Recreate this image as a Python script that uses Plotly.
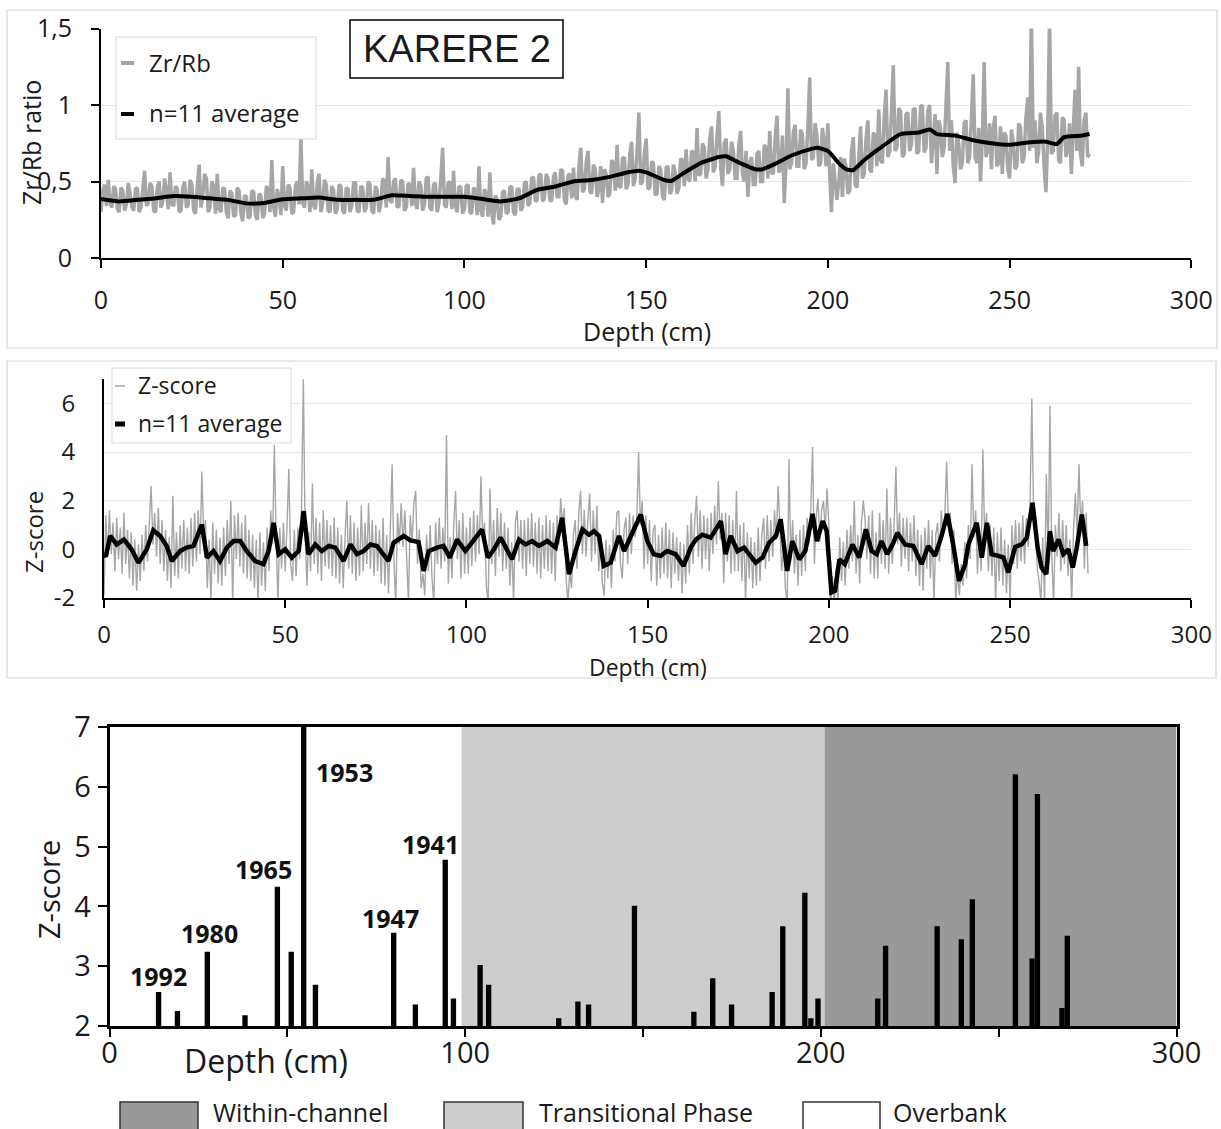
import plotly.graph_objects as go

# ---------------- data ----------------
# Zr/Rb ratio, 0.5 cm steps (0-272 cm)
zr_rb = [
    0.30, 0.44, 0.48, 0.34, 0.51, 0.36, 0.33, 0.47, 0.45, 0.32, 0.30, 0.46, 0.44, 0.31, 0.35, 0.49, 0.42, 0.33, 0.31, 0.45,
    0.46, 0.30, 0.33, 0.48, 0.57, 0.34, 0.36, 0.49, 0.47, 0.31, 0.30, 0.46, 0.50, 0.33, 0.37, 0.52, 0.44, 0.32, 0.56, 0.35,
    0.34, 0.47, 0.45, 0.30, 0.31, 0.46, 0.50, 0.33, 0.35, 0.51, 0.48, 0.31, 0.29, 0.47, 0.61, 0.33, 0.40, 0.55, 0.52, 0.30,
    0.33, 0.50, 0.47, 0.29, 0.55, 0.32, 0.30, 0.46, 0.45, 0.30, 0.26, 0.44, 0.42, 0.27, 0.28, 0.46, 0.44, 0.29, 0.24, 0.41,
    0.40, 0.26, 0.27, 0.44, 0.43, 0.28, 0.25, 0.42, 0.41, 0.26, 0.29, 0.47, 0.45, 0.30, 0.64, 0.33, 0.27, 0.45, 0.40, 0.28,
    0.60, 0.34, 0.31, 0.48, 0.46, 0.29, 0.30, 0.47, 0.50, 0.35, 0.79, 0.36, 0.33, 0.50, 0.47, 0.30, 0.58, 0.34, 0.32, 0.49,
    0.55, 0.30, 0.36, 0.51, 0.48, 0.31, 0.30, 0.47, 0.44, 0.29, 0.32, 0.48, 0.47, 0.31, 0.29, 0.46, 0.45, 0.30, 0.34, 0.49,
    0.49, 0.31, 0.30, 0.47, 0.46, 0.30, 0.33, 0.50, 0.48, 0.31, 0.29, 0.47, 0.44, 0.30, 0.35, 0.52, 0.50, 0.33, 0.66, 0.38,
    0.36, 0.50, 0.52, 0.33, 0.34, 0.51, 0.50, 0.31, 0.33, 0.49, 0.48, 0.34, 0.59, 0.36, 0.32, 0.50, 0.47, 0.31, 0.35, 0.52,
    0.53, 0.33, 0.31, 0.48, 0.49, 0.30, 0.36, 0.52, 0.72, 0.35, 0.33, 0.49, 0.50, 0.32, 0.57, 0.34, 0.30, 0.47, 0.46, 0.29,
    0.32, 0.47, 0.48, 0.30, 0.29, 0.46, 0.44, 0.28, 0.60, 0.31, 0.27, 0.45, 0.42, 0.27, 0.56, 0.30, 0.22, 0.41, 0.38, 0.25,
    0.27, 0.43, 0.44, 0.29, 0.30, 0.46, 0.47, 0.30, 0.28, 0.45, 0.45, 0.31, 0.33, 0.49, 0.50, 0.34, 0.36, 0.52, 0.53, 0.37,
    0.38, 0.54, 0.55, 0.37, 0.39, 0.55, 0.52, 0.38, 0.37, 0.53, 0.56, 0.40, 0.40, 0.58, 0.57, 0.38, 0.35, 0.54, 0.55, 0.39,
    0.59, 0.41, 0.38, 0.60, 0.72, 0.43, 0.45, 0.62, 0.70, 0.44, 0.42, 0.61, 0.58, 0.40, 0.45, 0.60, 0.36, 0.58, 0.55, 0.40,
    0.42, 0.64, 0.62, 0.44, 0.74, 0.47, 0.46, 0.65, 0.66, 0.45, 0.48, 0.68, 0.76, 0.47, 0.52, 0.70, 0.95, 0.48, 0.50, 0.68,
    0.78, 0.45, 0.46, 0.63, 0.62, 0.41, 0.42, 0.60, 0.58, 0.40, 0.38, 0.59, 0.60, 0.42, 0.44, 0.61, 0.56, 0.42, 0.46, 0.65,
    0.64, 0.47, 0.71, 0.52, 0.50, 0.70, 0.69, 0.50, 0.85, 0.54, 0.55, 0.75, 0.72, 0.52, 0.58, 0.78, 0.86, 0.56, 0.60, 0.80,
    0.96, 0.60, 0.47, 0.75, 0.78, 0.55, 0.58, 0.76, 0.70, 0.52, 0.52, 0.74, 0.83, 0.55, 0.50, 0.70, 0.40, 0.62, 0.66, 0.48,
    0.48, 0.68, 0.70, 0.50, 0.50, 0.74, 0.72, 0.52, 0.83, 0.56, 0.55, 0.78, 0.93, 0.56, 0.58, 0.80, 0.36, 0.62, 1.11, 0.58,
    0.62, 0.82, 0.87, 0.60, 0.60, 0.84, 0.80, 0.58, 0.62, 0.86, 1.18, 0.64, 0.66, 0.88, 0.80, 0.60, 0.62, 0.85, 0.76, 0.60,
    0.88, 0.55, 0.30, 0.62, 0.52, 0.38, 0.50, 0.66, 0.40, 0.65, 0.60, 0.42, 0.44, 0.70, 0.79, 0.48, 0.46, 0.72, 0.86, 0.52,
    0.55, 0.78, 0.90, 0.58, 0.56, 0.82, 0.80, 0.60, 0.97, 0.64, 0.62, 0.92, 1.10, 0.66, 0.70, 0.95, 1.26, 0.70, 0.72, 0.98,
    0.96, 0.66, 0.68, 0.94, 0.95, 0.70, 0.74, 0.97, 0.98, 0.68, 0.70, 0.99, 1.00, 0.69, 0.72, 0.96, 1.00, 0.62, 0.78, 0.94,
    0.55, 0.90, 0.85, 0.66, 0.72, 0.95, 1.28, 0.70, 0.90, 0.60, 0.49, 0.82, 0.75, 0.58, 0.62, 0.88, 0.90, 0.62, 0.66, 0.92,
    1.20, 0.66, 0.62, 0.85, 0.50, 0.78, 1.28, 0.66, 0.70, 0.88, 0.58, 0.85, 0.93, 0.60, 0.62, 0.86, 0.55, 0.82, 0.80, 0.58,
    0.52, 0.84, 0.76, 0.58, 0.60, 0.88, 0.85, 0.62, 0.66, 0.92, 1.05, 0.70, 1.60, 0.72, 0.90, 0.62, 0.70, 0.95, 0.85, 0.60,
    0.43, 0.80, 1.60, 0.68, 0.70, 0.93, 0.95, 0.64, 0.62, 0.92, 0.90, 0.66, 0.70, 0.88, 0.55, 0.82, 1.10, 0.70, 1.25, 0.68,
    0.60, 0.90, 0.95, 0.66, 0.68,
]
zr_rb_depth = [i * 0.5 for i in range(len(zr_rb))]

# n=11 running average of Zr/Rb
zr_rb_avg_depth = [
    0, 5, 10, 15, 20, 25, 30, 35, 40, 45,
    50, 55, 60, 65, 70, 75, 80, 85, 90, 95,
    100, 105, 110, 115, 120, 125, 130, 135, 140, 145,
    148, 150, 155, 157, 160, 165, 170, 172, 175, 180,
    182, 185, 190, 195, 197, 200, 203, 205, 207, 210,
    215, 220, 225, 228, 230, 235, 240, 245, 250, 255,
    258, 260, 263, 265, 270, 272,
]
zr_rb_avg = [
    0.386, 0.37, 0.38, 0.39, 0.405, 0.40, 0.39, 0.38, 0.357, 0.36,
    0.384, 0.39, 0.395, 0.38, 0.38, 0.38, 0.41, 0.406, 0.40, 0.40,
    0.40, 0.385, 0.37, 0.39, 0.445, 0.467, 0.50, 0.51, 0.53, 0.56,
    0.57, 0.56, 0.51, 0.505, 0.55, 0.62, 0.66, 0.665, 0.63, 0.58,
    0.58, 0.61, 0.67, 0.71, 0.72, 0.70, 0.62, 0.58, 0.575, 0.64,
    0.73, 0.81, 0.82, 0.84, 0.81, 0.80, 0.77, 0.75, 0.74, 0.755,
    0.76, 0.76, 0.745, 0.79, 0.80, 0.81,
]

# Z-score of Zr/Rb, 0.5 cm steps (0-271.5 cm)
zscore = [
    -1.9, 1.4, -0.3, 1.6, -0.2, 1.1, -0.9, 1.3, -0.4, 0.9, -1.0, 1.5, -0.6, 0.8, -1.2, 0.7, -1.5, 0.4, -1.7, 0.2,
    -1.3, 0.6, -0.9, 1.0, -0.5, 1.4, 2.6, 0.2, 1.5, -0.3, 1.7, -0.6, 1.2, -0.9, 0.8, -1.3, 0.5, -1.6, 2.2, -1.1,
    0.7, -1.2, 1.0, -0.8, 1.2, -0.9, 0.9, -1.0, 1.3, -0.7, 1.5, -0.5, 1.6, -0.2, 3.2, 0.6, 1.2, -1.6, 0.4, -2.2,
    1.1, -1.0, 0.8, -1.4, 0.5, -1.5, 0.9, -1.1, 1.2, -0.6, 2.0, -2.2, 1.4, -0.4, 1.5, -0.7, 1.1, -1.0, 1.4, -1.2,
    0.8, -1.3, 0.6, -1.6, 0.4, -2.2, 0.7, -1.5, 0.3, -1.7, 0.9, -0.9, 1.6, 0.2, 4.3, 0.4, -2.1, 0.9, -0.8, 1.1,
    -0.9, 1.0, 3.3, -0.6, -1.3, 0.8, -1.1, 0.9, -0.4, 1.8, 7.0, 0.6, -1.5, 0.7, -0.9, 2.7, -0.6, 1.3, -1.0, 1.1,
    -1.3, 1.6, -0.7, 1.2, -0.8, 1.0, -1.1, 1.3, -1.2, 0.9, -1.4, 0.6, -1.6, 0.5, 2.0, -0.8, 1.4, -1.0, 1.1, -1.3,
    0.9, -1.1, 1.8, -0.9, 1.1, -0.6, 1.9, -0.8, 1.2, -1.1, 1.0, -0.9, 0.8, -1.4, 1.3, -1.5, 0.6, -1.8, 0.9, 3.5,
    -0.5, -2.2, 1.5, 0.2, 1.9, 0.1, 1.6, -0.4, -2.2, 1.4, 0.3, 1.9, 2.4, -0.6, 0.8, -1.6, -1.0, -1.9, 0.6, -0.9,
    1.0, -1.2, -2.2, 1.1, -0.6, 1.3, -0.8, 0.9, -0.5, 4.7, -1.4, 0.5, -1.2, 1.0, 2.4, -0.4, 1.2, -1.2, 1.5, -1.0,
    0.9, -1.0, 1.3, -0.7, 1.6, -0.5, 1.4, -0.2, 3.0, 0.4, 1.1, -1.5, -2.2, 2.5, -0.6, 1.2, -1.1, 1.7, -0.3, 1.5,
    -0.9, 1.1, -0.8, 0.9, -1.5, 0.3, -2.2, 1.1, 1.6, -0.5, 1.2, -0.8, 1.2, -1.1, 1.3, -0.6, 1.5, -0.7, 1.1, -1.0,
    1.3, -1.2, 1.0, -0.8, 1.4, -0.9, 1.2, -1.0, 1.1, -1.3, 1.4, 0.2, 2.1, 1.0, 1.7, -1.2, -2.2, -0.9, -1.6, 0.6,
    1.2, -0.8, 1.5, 2.4, -0.2, 1.6, -0.3, 1.2, 2.3, -0.5, 1.6, -0.2, 1.8, -0.9, 0.3, -1.4, -1.9, 0.4, -1.2, 0.2,
    -1.6, 0.8, -0.5, 1.5, 1.6, -0.6, -1.2, 0.8, 1.3, -0.6, 1.5, -0.2, 1.4, 0.5, 1.2, 4.0, 1.0, 2.0, -0.8, 1.4,
    -0.6, 1.2, -1.3, 0.8, 1.0, -1.5, 0.6, -1.2, 0.9, -1.0, 1.1, -1.2, 0.8, -1.6, 0.7, -1.0, 0.5, -1.3, 0.3, -1.8,
    0.2, -1.4, 1.0, -1.0, 1.5, -0.6, 1.2, 2.2, -0.3, 1.6, -0.8, 1.4, -0.4, 1.3, -0.9, 1.5, -0.2, 1.8, 0.2, 2.8,
    0.4, 1.5, -1.4, 1.5, -0.5, 1.4, -1.0, 1.2, -0.9, 2.4, -0.9, 1.0, -1.3, 1.1, -2.2, 0.7, -1.2, 0.5, -1.6, 0.3,
    -1.5, 0.9, -1.3, 0.6, 1.3, -0.8, 1.4, -0.5, 1.2, -0.3, 1.6, 0.4, 2.6, 0.9, -0.9, 0.2, -1.6, -2.2, 3.7, -0.5,
    1.2, -1.0, 0.6, -1.5, 0.8, -1.1, 1.0, -0.9, 1.3, 0.2, 1.6, 4.2, -0.6, 1.3, 2.1, 0.3, 1.6, 2.0, 0.8, 2.5,
    1.0, -2.3, -1.1, -2.3, -0.8, -2.2, 0.5, -1.3, 0.3, -1.5, 0.8, -0.8, 1.0, -0.5, 2.0, -1.0, 0.6, -1.4, 1.1, 2.0,
    1.2, -0.4, 1.4, -1.0, 1.6, -1.2, 0.7, -1.2, 1.5, -0.6, 1.2, -0.8, 2.5, -1.0, 1.3, -0.6, 1.0, 3.4, 0.2, 1.5,
    -0.7, 1.3, -0.4, 1.3, -0.9, 1.1, -0.5, 1.4, -1.1, 0.8, -1.5, 0.6, -1.7, 0.9, -0.8, 1.2, -1.2, 0.8, -2.2, 0.6,
    1.1, -0.5, 1.6, 0.6, 1.4, 3.6, 0.9, 1.5, -0.6, 0.8, -2.2, -0.9, -1.9, -0.6, -1.5, 0.3, -1.2, 1.0, -0.4, 3.5,
    0.5, 1.6, -1.0, 0.8, -0.9, 4.1, 0.3, 1.5, -0.9, 1.0, -1.1, 0.9, -2.2, 0.7, -1.3, 0.9, -1.5, 0.4, -1.8, 0.2,
    -2.2, 1.0, -0.6, 1.2, -0.8, 1.1, -0.5, 1.4, -0.6, 1.3, 0.1, 1.8, 6.2, 1.4, 0.8, -0.8, -1.3, -2.2, 0.5, -2.2,
    3.1, -0.5, 5.9, -0.3, -2.2, 1.0, -0.3, 1.5, -0.9, 1.2, -0.6, 1.0, -1.1, 0.4, -2.2, 0.8, 2.3, 0.6, 3.5, 0.9,
    2.0, -0.8, 1.5, -1.0,
]
zscore_depth = [i * 0.5 for i in range(len(zscore))]

# n=11 running average of the Z-score
zscore_avg_depth = [
    0, 0.5, 1.7, 3.5, 5.5, 7.6, 9.5, 11.8, 13.6, 15.5,
    17.3, 18.7, 21, 22.8, 24.7, 27, 28.4, 30.2, 32, 33.9,
    35.7, 37.6, 39.4, 41.7, 44, 45.4, 46.8, 48.2, 50, 51.8,
    53.7, 55.1, 56.4, 58.3, 60.1, 62, 63.8, 66.1, 68, 69.8,
    71.6, 73.5, 75.3, 77.2, 78.5, 79.9, 81.8, 82.7, 84.5, 86.8,
    88.2, 89.6, 91.9, 93.7, 95.4, 97.4, 99.7, 102, 104.3, 105.9,
    107.6, 109.4, 111.2, 112.6, 114.5, 116.3, 118.1, 120, 122.3, 124.6,
    126.4, 128.3, 130.1, 132, 133.8, 135.2, 136.6, 137.9, 139.8, 142.1,
    143.5, 145.3, 148.1, 149.9, 151.7, 153.6, 155.4, 157.7, 159.9, 161.9,
    163.3, 165.1, 167.4, 170.2, 171.5, 172.9, 174.8, 176.6, 178, 179.8,
    181.7, 183.5, 185.4, 186.7, 188.5, 189.9, 191.8, 193.5, 195.5, 196.7,
    198.3, 199.4, 200.7, 201.7, 202.9, 204.4, 206.5, 208.4, 210.2, 211.8,
    213.2, 214.5, 216.1, 217.6, 218.9, 221, 223.3, 225.6, 227.4, 229.3,
    231.1, 232.7, 234.3, 235.9, 237.6, 238.5, 240.8, 242.2, 243.6, 244.9,
    246.8, 248.2, 249.5, 251.4, 253.2, 254.6, 256.2, 257.6, 258.7, 260,
    261, 261.9, 263.4, 264.7, 266.1, 267.3, 268.4, 269.8, 271,
]
zscore_avg = [
    -0.2, -0.3, 0.55, 0.2, 0.4, 0.0, -0.55, 0.0, 0.78, 0.55,
    0.14, -0.48, -0.07, 0.07, 0.14, 1.02, -0.34, -0.07, -0.48, 0.07,
    0.34, 0.34, -0.07, -0.48, -0.61, -0.07, 1.09, -0.2, 0.0, -0.34,
    -0.07, 1.57, -0.2, 0.2, -0.07, 0.14, 0.07, -0.48, 0.2, -0.2,
    -0.07, 0.2, 0.14, -0.2, -0.48, 0.27, 0.45, 0.55, 0.37, 0.3,
    -0.89, -0.07, 0.07, 0.14, -0.34, 0.4, -0.07, 0.34, 0.82, -0.34,
    0.0, 0.48, -0.07, -0.41, 0.4, 0.2, 0.34, 0.14, 0.34, 0.07,
    1.3, -1.02, -0.07, 0.82, 0.6, 0.75, 0.55, -0.68, -0.55, 0.55,
    -0.07, 0.55, 1.43, 0.34, -0.2, -0.27, -0.07, -0.2, -0.68, 0.07,
    0.4, 0.6, 0.48, 1.16, -0.2, 0.55, -0.07, 0.07, -0.2, -0.55,
    -0.34, 0.27, 0.55, 1.23, -0.89, 0.34, -0.41, -0.07, 1.46, 0.34,
    1.16, 0.75, -1.77, -1.7, -0.41, -0.61, 0.2, -0.34, 0.82, -0.07,
    -0.2, 0.34, -0.2, 0.2, 0.68, 0.2, 0.14, -0.61, 0.14, -0.27,
    0.55, 1.46, 0.2, -1.3, -0.61, 0.2, 1.09, -0.34, 1.09, -0.2,
    -0.27, -0.34, -0.95, 0.1, 0.2, 0.48, 1.91, 0.07, -0.75, -1.02,
    0.75, -0.07, 0.41, -0.2, 0.0, -0.75, 0.07, 1.43, 0.14,
]

# Z-score peaks above 2 (flood layers)
peak_depth = [
    13.8, 19.1, 27.5, 38.1, 47.2, 51.1, 54.6, 57.9, 79.9, 86.0,
    94.4, 96.7, 104.2, 106.6, 126.3, 131.7, 134.7, 147.6, 164.3, 169.6,
    174.9, 186.3, 189.3, 195.5, 197.2, 199.2, 216.0, 218.2, 232.7, 239.5,
    242.6, 254.7, 259.4, 260.9, 267.8, 269.3,
]
peak_z = [
    2.57, 2.25, 3.24, 2.18, 4.33, 3.24, 7.0, 2.69, 3.56, 2.36,
    4.78, 2.46, 3.02, 2.69, 2.13, 2.41, 2.36, 4.01, 2.24, 2.80,
    2.36, 2.57, 3.67, 4.23, 2.13, 2.46, 2.46, 3.34, 3.67, 3.45,
    4.12, 6.21, 3.13, 5.88, 2.30, 3.51,
]

# dated flood peaks
flood_years = ["1992", "1980", "1965", "1953", "1947", "1941"]
flood_depth = [13.8, 27.5, 47.2, 54.6, 79.9, 94.4]

# depositional phases (depth intervals)
phase_names = ["Within-channel", "Transitional Phase", "Overbank"]
phase_top = [201, 99, 0]
phase_bottom = [300, 201, 99]

# ---------------- styling ----------------
W, H = 1221, 1129
FONT = "Open Sans"
GREY = "#a6a6a6"
phase_fill = {"Within-channel": "#999999", "Transitional Phase": "#cccccc", "Overbank": "#ffffff"}
# label offsets (pixels) relative to the top of each dated bar
label_shift = {"1992": (0, 16), "1980": (2, 19), "1965": (-14, 18),
               "1953": (41, -45), "1947": (-3, 15), "1941": (-15, 16)}


def px(x):
    return x / W


def py(y):
    return 1 - y / H


fig = go.Figure()

# panel 1: Zr/Rb ratio
fig.add_trace(go.Scatter(x=zr_rb_depth, y=zr_rb, mode="lines",
                         line=dict(color=GREY, width=3.5), xaxis="x", yaxis="y",
                         showlegend=False, hoverinfo="skip"))
fig.add_trace(go.Scatter(x=zr_rb_avg_depth, y=zr_rb_avg, mode="lines",
                         line=dict(color="black", width=4, shape="spline", smoothing=0.5),
                         xaxis="x", yaxis="y", showlegend=False))

# panel 2: Z-score
fig.add_trace(go.Scatter(x=zscore_depth, y=zscore, mode="lines",
                         line=dict(color=GREY, width=1.4), xaxis="x2", yaxis="y2",
                         showlegend=False, hoverinfo="skip"))
fig.add_trace(go.Scatter(x=zscore_avg_depth, y=zscore_avg, mode="lines",
                         line=dict(color="black", width=4.5), xaxis="x2", yaxis="y2",
                         showlegend=False))

# panel 3: peaks above Z = 2
fig.add_trace(go.Bar(x=peak_depth, y=peak_z, width=1.5,
                     marker=dict(color="black", line=dict(width=0)),
                     xaxis="x3", yaxis="y3", showlegend=False))

tick_vals_x = [0, 50, 100, 150, 200, 250, 300]


def x_axis(domain, anchor, size, standoff, labels=None, lw=2):
    return dict(domain=domain, anchor=anchor, range=[0, 300], tickvals=tick_vals_x,
                ticktext=labels if labels else [str(v) for v in tick_vals_x],
                showline=True, linecolor="black", linewidth=lw,
                ticks="outside", ticklen=8, tickwidth=2, tickcolor="black",
                showgrid=False, zeroline=False, ticklabelstandoff=standoff,
                automargin=False,
                tickfont=dict(family=FONT, size=size, color="#1a1a1a"))


fig.update_layout(
    width=W, height=H, autosize=False,
    margin=dict(l=0, r=0, t=0, b=0, pad=0, autoexpand=False),
    paper_bgcolor="white", plot_bgcolor="white",
    showlegend=False,
    xaxis=x_axis([px(101), px(1191.3)], "y", 25, 11),
    yaxis=dict(domain=[py(258), py(28.5)], anchor="x", range=[0, 1.5],
               tickvals=[0, 0.5, 1, 1.5], ticktext=["0", "0,5", "1", "1,5"],
               showline=True, linecolor="black", linewidth=2,
               ticks="outside", ticklen=8, tickwidth=2, tickcolor="black",
               showgrid=True, gridcolor="#e6e6e6", gridwidth=1, zeroline=False,
               ticklabelstandoff=14, automargin=False,
               tickfont=dict(family=FONT, size=25, color="#1a1a1a")),
    xaxis2=x_axis([px(104), px(1191.3)], "y2", 24, 6),
    yaxis2=dict(domain=[py(598), py(379)], anchor="x2", range=[-2, 7],
                tickvals=[-2, 0, 2, 4, 6], ticktext=["-2", "0", "2", "4", "6"],
                showline=True, linecolor="black", linewidth=2, ticks="",
                showgrid=True, gridcolor="#e6e6e6", gridwidth=1, zeroline=False,
                ticklabelstandoff=22, automargin=False,
                tickfont=dict(family=FONT, size=24, color="#1a1a1a")),
    xaxis3=dict(x_axis([px(109.5), px(1176.5)], "y3", 29, -9,
                       labels=["0", "", "100", "", "200", "", "300"], lw=2.5),
                mirror=True),
    yaxis3=dict(domain=[py(1026), py(727)], anchor="x3", range=[2, 7],
                tickvals=[2, 3, 4, 5, 6, 7],
                showline=True, linecolor="black", linewidth=2.5, mirror=True,
                ticks="outside", ticklen=9, tickwidth=2, tickcolor="black",
                showgrid=False, zeroline=False, ticklabelstandoff=1, automargin=False,
                tickfont=dict(family=FONT, size=29, color="#1a1a1a")),
)

shapes = []
annotations = []


def paper_rect(x0, y0, x1, y1, line_color, line_width, fill="rgba(0,0,0,0)", layer="above"):
    shapes.append(dict(type="rect", xref="paper", yref="paper",
                       x0=px(x0), x1=px(x1), y0=py(y1), y1=py(y0),
                       line=dict(color=line_color, width=line_width),
                       fillcolor=fill, layer=layer))


def paper_line(x0, x1, y, color, width):
    shapes.append(dict(type="line", xref="paper", yref="paper",
                       x0=px(x0), x1=px(x1), y0=py(y), y1=py(y),
                       line=dict(color=color, width=width)))


def paper_text(text, x, y, size, xanchor="center", angle=0, bold=False, family=FONT):
    annotations.append(dict(text=f"<b>{text}</b>" if bold else text,
                            xref="paper", yref="paper", x=px(x), y=py(y),
                            xanchor=xanchor, yanchor="middle", showarrow=False,
                            textangle=angle,
                            font=dict(family=family, size=size, color="#1a1a1a")))


# panel frames
paper_rect(7, 10, 1217, 348, "#d6d6d6", 1.2)
paper_rect(7, 361, 1216, 678, "#d6d6d6", 1.2)

# depositional phase shading behind the bars
for name, d0, d1 in zip(phase_names, phase_top, phase_bottom):
    if phase_fill[name] != "#ffffff":
        shapes.append(dict(type="rect", xref="x3", yref="y3", x0=d0, x1=d1, y0=2, y1=7,
                           fillcolor=phase_fill[name], line=dict(width=0), layer="below"))

# title box
paper_rect(350, 20, 563, 78, "black", 1.5, fill="white")
paper_text("KARERE 2", 456.5, 49, 38, family="Liberation Sans, Arial")

# legend, panel 1
paper_rect(116, 37, 316, 139, "#d9d9d9", 1, fill="white")
paper_line(121, 134, 63, GREY, 4)
paper_line(121, 134, 114, "black", 4)
paper_text("Zr/Rb", 147, 62, 24, xanchor="left")
paper_text("n=11 average", 147, 113, 24, xanchor="left")

# legend, panel 2
paper_rect(112, 368, 291, 443, "#d9d9d9", 1, fill="white")
paper_line(115, 125, 386, GREY, 1.5)
paper_line(115, 125, 424, "black", 5)
paper_text("Z-score", 136, 385, 23, xanchor="left")
paper_text("n=11 average", 136, 423, 23, xanchor="left")

# axis titles
paper_text("Zr/Rb ratio", 31, 143, 25, angle=-90)
paper_text("Depth (cm)", 647, 331, 25)
paper_text("Z-score", 33, 532, 24, angle=-90)
paper_text("Depth (cm)", 648, 667, 23)
paper_text("Z-score", 48, 890, 29, angle=-90)
paper_text("Depth (cm)", 266, 1060, 32)

# phase legend
legend_boxes = {"Within-channel": (120, 198, 211), "Transitional Phase": (444, 523, 537),
                "Overbank": (803, 880, 891)}
for name in phase_names:
    bx0, bx1, tx = legend_boxes[name]
    paper_rect(bx0, 1102, bx1, 1142, "#333333", 1.5, fill=phase_fill[name])
    paper_text(name, tx, 1112, 25, xanchor="left")

# dated flood labels
bar_height = dict(zip(peak_depth, peak_z))
for year, d in zip(flood_years, flood_depth):
    dx, dy = label_shift[year]
    annotations.append(dict(text=f"<b>{year}</b>", xref="x3", yref="y3",
                            x=d, y=min(bar_height[d], 7), xshift=dx, yshift=dy,
                            xanchor="center", yanchor="middle", showarrow=False,
                            font=dict(family=FONT, size=25, color="#111111")))

fig.update_layout(shapes=shapes, annotations=annotations)
fig.write_html("out.html")
